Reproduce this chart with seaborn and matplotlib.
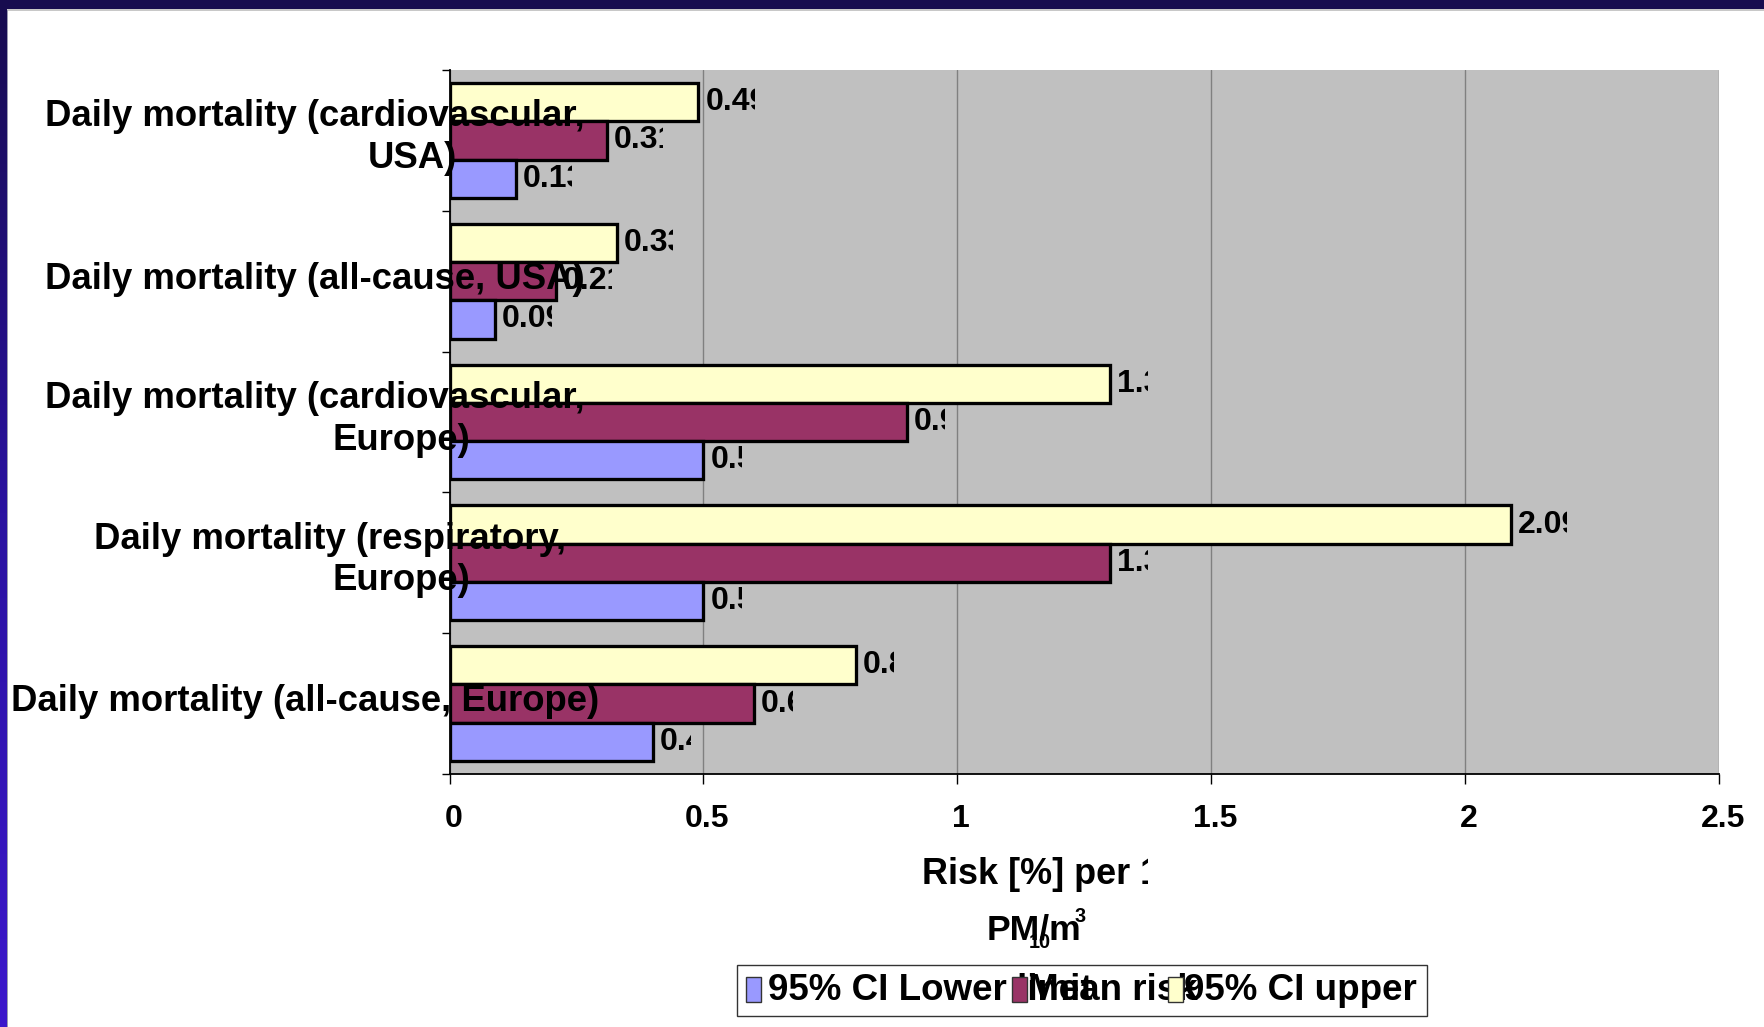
import numpy as np
import pandas as pd
import seaborn as sns
import matplotlib
matplotlib.use("Agg")
import matplotlib.pyplot as plt
from matplotlib.patches import Rectangle
from matplotlib.transforms import Bbox, ScaledTranslation
from matplotlib.colors import LinearSegmentedColormap

# ---- data -------------------------------------------------------------
categories = [
    "Daily mortality (cardiovascular, USA)",
    "Daily mortality (all-cause, USA)",
    "Daily mortality (cardiovascular, Europe)",
    "Daily mortality (respiratory, Europe)",
    "Daily mortality (all-cause, Europe)",
]
series_names = ["95% CI Lower limit", "Mean risk", "95% CI upper"]
ci_lower = [0.13, 0.09, 0.5, 0.5, 0.4]
mean_risk = [0.31, 0.21, 0.9, 1.3, 0.6]
ci_upper = [0.49, 0.33, 1.3, 2.09, 0.8]
x_ticks = [0, 0.5, 1, 1.5, 2, 2.5]
x_title = "Risk [%] per 1"
unit_main, unit_sub, unit_sup = "PM/m", "10", "3"

# ---- styling ------------------------------------------------------------
colors = {"95% CI Lower limit": "#9999ff", "Mean risk": "#993366", "95% CI upper": "#ffffcc"}
stack_order = ["95% CI upper", "Mean risk", "95% CI Lower limit"]  # top to bottom in a group

W, H, DPI = 1765, 1027, 100
VALUE_PX = 32      # font size of the bar value labels, in pixels
TITLE_PX = 36
LEGEND_PX = 36.8


def fx(px):
    return px / W


def fy(py):
    return 1 - py / H


def pt(px):
    return px * 72 / DPI


sns.set_theme(style="white")
plt.rcParams["font.family"] = ["Liberation Sans", "DejaVu Sans"]
plt.rcParams["font.weight"] = "bold"

fig = plt.figure(figsize=(W / DPI, H / DPI), dpi=DPI, facecolor="white")

# slide frame: dark band on top, gradient strip on the left
fig.patches.append(Rectangle((0, fy(9)), 1, 9 / H, transform=fig.transFigure,
                             facecolor="#170c4f", edgecolor="none", zorder=0))
fig.patches.append(Rectangle((fx(7), fy(10.5)), 1, 1.5 / H, transform=fig.transFigure,
                             facecolor="#c8c8c8", edgecolor="none", zorder=0))
strip = fig.add_axes([0, 0, fx(7), 1])
strip_cmap = LinearSegmentedColormap.from_list("strip", ["#170c4f", "#2a12a0", "#3c18cc"])
strip.imshow(np.linspace(0, 1, 256).reshape(-1, 1), aspect="auto", cmap=strip_cmap)
strip.axis("off")
fig.patches.append(Rectangle((fx(7), 0), 1.2 / W, fy(10), transform=fig.transFigure,
                             facecolor="#9a9ab0", edgecolor="none", zorder=1))

# ---- main axes ----------------------------------------------------------
ax = fig.add_axes([fx(449.5), fy(774), fx(1719 - 449.5), (774 - 70) / H])

df = pd.DataFrame({
    "category": categories * 3,
    "series": np.repeat(series_names, len(categories)),
    "value": ci_lower + mean_risk + ci_upper,
})

sns.barplot(data=df, x="value", y="category", hue="series", order=categories,
            hue_order=stack_order, palette=colors, orient="h", width=0.816,
            saturation=1, edgecolor="black", linewidth=pt(3.3), errorbar=None,
            legend=False, ax=ax, zorder=3)

ax.set_facecolor("#c0c0c0")
ax.set_xlim(0, 2.5)
ax.set_ylim(len(categories) - 0.5, -0.5)
ax.set_xticks(x_ticks)
ax.set_xticklabels([f"{t:g}" for t in x_ticks])
ax.set_yticks(np.arange(-0.5, len(categories) + 0.5, 1))
ax.set_yticklabels([])
ax.set_xlabel("")
ax.set_ylabel("")
ax.tick_params(axis="y", left=True, length=pt(8), width=1, color="black", direction="out")
ax.tick_params(axis="x", bottom=True, length=pt(10), width=1, color="black",
               direction="out", pad=pt(20), labelsize=pt(32), labelcolor="black")
for lab in ax.get_xticklabels():
    lab.set_fontweight("bold")
    lab.set_transform(lab.get_transform() + ScaledTranslation(4 / DPI, 0, fig.dpi_scale_trans))
ax.grid(axis="x", color="#808080", linewidth=1)
ax.grid(axis="y", visible=False)
ax.set_axisbelow(True)
for side in ("top", "right"):
    ax.spines[side].set_visible(False)
for side in ("left", "bottom"):
    ax.spines[side].set_color("black")
    ax.spines[side].set_linewidth(1.3)

# value labels at the end of every bar
value_labels = []
for cont in ax.containers:
    value_labels += ax.bar_label(cont, fmt="{:g}", padding=pt(7), fontsize=pt(VALUE_PX),
                                 fontweight="bold", color="black", zorder=6)

# category labels, drawn over the plot area
wrap = [True, False, True, True, False]
line1_x = [45, 45, 45, 94.5, 11]
line2_x = [368, None, 333, 333, None]
for i, name in enumerate(categories):
    if wrap[i]:
        head, tail = name.split(", ", 1)
        lines = [(head + ",", line1_x[i], 23.5), (tail, line2_x[i], -18)]
    else:
        lines = [(name, line1_x[i], 2)]
    for text, xpx, dy in lines:
        ax.annotate(text, xy=(fx(xpx), i), xycoords=("figure fraction", "data"),
                    xytext=(0, dy), textcoords="offset pixels", ha="left", va="center",
                    fontsize=pt(36.5), fontweight="bold", color="black",
                    annotation_clip=False, zorder=8)

# axis title (two lines, units with sub/superscripts)
title = fig.text(fx(922), fy(875), x_title, ha="left", va="center",
                 fontsize=pt(TITLE_PX), fontweight="bold", color="black")
fig.text(fx(987), fy(930), unit_main, ha="left", va="center",
         fontsize=pt(35.5), fontweight="bold", color="black")
fig.text(fx(1029), fy(942), unit_sub, ha="left", va="center",
         fontsize=pt(20), fontweight="bold", color="black")
fig.text(fx(1075), fy(917), unit_sup, ha="left", va="center",
         fontsize=pt(20), fontweight="bold", color="black")

# legend
fig.patches.append(Rectangle((fx(737), fy(1016)), (1427 - 737) / W, (1016 - 965) / H,
                             transform=fig.transFigure, facecolor="white",
                             edgecolor="#333333", linewidth=1, zorder=5))
legend_pos = {"95% CI Lower limit": (746, 768), "Mean risk": (1012, 1028),
              "95% CI upper": (1168, 1184)}
z = 6
for name in series_names:
    mx, tx = legend_pos[name]
    fig.patches.append(Rectangle((fx(mx), fy(1002)), 15 / W, 25 / H, transform=fig.transFigure,
                                 facecolor=colors[name], edgecolor="#333333",
                                 linewidth=1, zorder=z))
    fig.text(fx(tx), fy(991), name, ha="left", va="center", fontsize=pt(LEGEND_PX),
             fontweight="bold", color="black", zorder=z + 1)
    z += 2

# the value labels and the axis title are cut off just inside their last character
fig.canvas.draw()
renderer = fig.canvas.get_renderer()


def clip_last_char(t, size_px, keep):
    bb = t.get_window_extent(renderer)
    s = t.get_text()
    w_prefix, _, _ = renderer.get_text_width_height_descent(
        s[:-1], t.get_fontproperties(), ismath=False)
    right = bb.x0 + w_prefix + keep * size_px
    t.set_clip_box(Bbox.from_extents(bb.x0 - 3, bb.y0 - 10, right, bb.y1 + 10))
    t.set_clip_on(True)


for t in value_labels:
    clip_last_char(t, VALUE_PX, 0.15)
clip_last_char(title, TITLE_PX, 0.22)

fig.savefig("out.png", dpi=DPI, facecolor="white")
